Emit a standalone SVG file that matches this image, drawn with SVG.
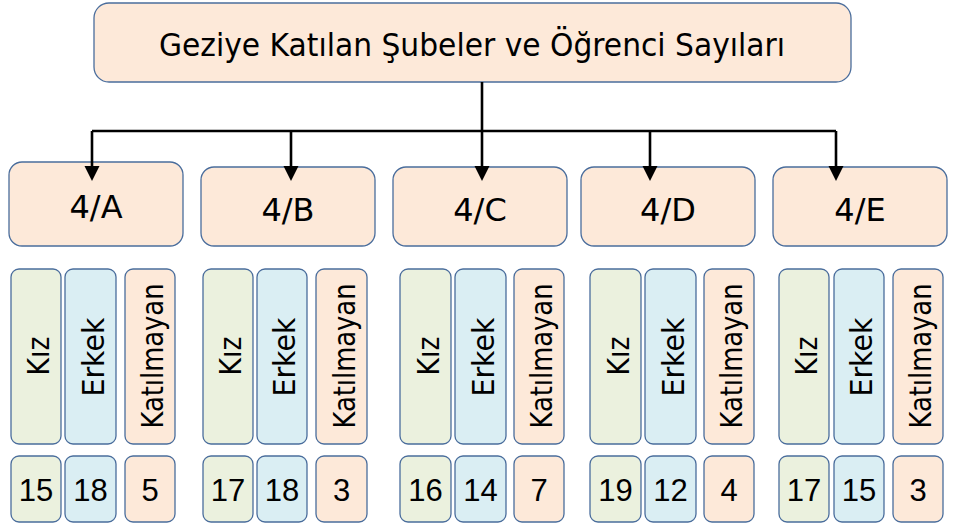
<svg xmlns="http://www.w3.org/2000/svg" width="953" height="527" viewBox="0 0 953 527">
<style>
.box{stroke:#4a6d9c;stroke-width:1.3}
.pe{fill:#fde9d9}.gr{fill:#ebf1de}.bl{fill:#daeef3}
text{font-family:"DejaVu Sans","Liberation Sans",sans-serif;fill:#000}
.t{font-size:32px}
.h{font-size:32px;text-anchor:middle}
.v{font-size:30px;text-anchor:middle}
.n{font-family:"Liberation Sans","DejaVu Sans",sans-serif;font-size:31px;text-anchor:middle}
.ln{fill:none;stroke:#000;stroke-width:2.6}
.ah{fill:#000}
</style>
<g id="title">
<rect class="box pe" x="94" y="3" width="757" height="79" rx="15"/>
<text class="t" x="159" y="56" textLength="626" lengthAdjust="spacingAndGlyphs">Geziye Katılan Şubeler ve Öğrenci Sayıları</text>
</g>
<g id="node-4A">
<rect class="box pe" x="9" y="162" width="174" height="84" rx="13"/>
<text class="h" x="96" y="218">4/A</text>
</g>
<g id="node-4B">
<rect class="box pe" x="201" y="167" width="174" height="79" rx="13"/>
<text class="h" x="288" y="221">4/B</text>
</g>
<g id="node-4C">
<rect class="box pe" x="393" y="167" width="174" height="79" rx="13"/>
<text class="h" x="480" y="221">4/C</text>
</g>
<g id="node-4D">
<rect class="box pe" x="581" y="167" width="174" height="79" rx="13"/>
<text class="h" x="668" y="221">4/D</text>
</g>
<g id="node-4E">
<rect class="box pe" x="773" y="167" width="174" height="79" rx="13"/>
<text class="h" x="860" y="221">4/E</text>
</g>

<g id="cols-4A">
<rect class="box gr" x="11" y="269" width="50" height="175" rx="8"/>
<rect class="box bl" x="65" y="269" width="51" height="175" rx="8"/>
<rect class="box pe" x="125" y="269" width="50" height="175" rx="8"/>
<text class="v" transform="translate(49,356) rotate(-90)" textLength="39" lengthAdjust="spacingAndGlyphs">Kız</text>
<text class="v" transform="translate(103.5,357) rotate(-90)" textLength="79" lengthAdjust="spacingAndGlyphs">Erkek</text>
<text class="v" transform="translate(163,356) rotate(-90)" textLength="145" lengthAdjust="spacingAndGlyphs">Katılmayan</text>
<rect class="box gr" x="11" y="456" width="50" height="66" rx="8"/>
<rect class="box bl" x="65" y="456" width="51" height="66" rx="8"/>
<rect class="box pe" x="125" y="456" width="50" height="66" rx="8"/>
<text class="n" x="36" y="501">15</text>
<text class="n" x="90.5" y="501">18</text>
<text class="n" x="150" y="501">5</text>
</g>
<g id="cols-4B">
<rect class="box gr" x="203" y="269" width="50" height="175" rx="8"/>
<rect class="box bl" x="257" y="269" width="50" height="175" rx="8"/>
<rect class="box pe" x="316" y="269" width="51" height="175" rx="8"/>
<text class="v" transform="translate(241,356) rotate(-90)" textLength="39" lengthAdjust="spacingAndGlyphs">Kız</text>
<text class="v" transform="translate(295,357) rotate(-90)" textLength="79" lengthAdjust="spacingAndGlyphs">Erkek</text>
<text class="v" transform="translate(354.5,356) rotate(-90)" textLength="145" lengthAdjust="spacingAndGlyphs">Katılmayan</text>
<rect class="box gr" x="203" y="456" width="50" height="66" rx="8"/>
<rect class="box bl" x="257" y="456" width="50" height="66" rx="8"/>
<rect class="box pe" x="316" y="456" width="51" height="66" rx="8"/>
<text class="n" x="228" y="501">17</text>
<text class="n" x="282" y="501">18</text>
<text class="n" x="341.5" y="501">3</text>
</g>
<g id="cols-4C">
<rect class="box gr" x="400" y="269" width="51" height="175" rx="8"/>
<rect class="box bl" x="455" y="269" width="51" height="175" rx="8"/>
<rect class="box pe" x="514" y="269" width="50" height="175" rx="8"/>
<text class="v" transform="translate(438.5,356) rotate(-90)" textLength="39" lengthAdjust="spacingAndGlyphs">Kız</text>
<text class="v" transform="translate(493.5,357) rotate(-90)" textLength="79" lengthAdjust="spacingAndGlyphs">Erkek</text>
<text class="v" transform="translate(552,356) rotate(-90)" textLength="145" lengthAdjust="spacingAndGlyphs">Katılmayan</text>
<rect class="box gr" x="400" y="456" width="51" height="66" rx="8"/>
<rect class="box bl" x="455" y="456" width="51" height="66" rx="8"/>
<rect class="box pe" x="514" y="456" width="50" height="66" rx="8"/>
<text class="n" x="425.5" y="501">16</text>
<text class="n" x="480.5" y="501">14</text>
<text class="n" x="539" y="501">7</text>
</g>
<g id="cols-4D">
<rect class="box gr" x="590" y="269" width="51" height="175" rx="8"/>
<rect class="box bl" x="645" y="269" width="51" height="175" rx="8"/>
<rect class="box pe" x="704" y="269" width="50" height="175" rx="8"/>
<text class="v" transform="translate(628.5,356) rotate(-90)" textLength="39" lengthAdjust="spacingAndGlyphs">Kız</text>
<text class="v" transform="translate(683.5,357) rotate(-90)" textLength="79" lengthAdjust="spacingAndGlyphs">Erkek</text>
<text class="v" transform="translate(742,356) rotate(-90)" textLength="145" lengthAdjust="spacingAndGlyphs">Katılmayan</text>
<rect class="box gr" x="590" y="456" width="51" height="66" rx="8"/>
<rect class="box bl" x="645" y="456" width="51" height="66" rx="8"/>
<rect class="box pe" x="704" y="456" width="50" height="66" rx="8"/>
<text class="n" x="615.5" y="501">19</text>
<text class="n" x="670.5" y="501">12</text>
<text class="n" x="729" y="501">4</text>
</g>
<g id="cols-4E">
<rect class="box gr" x="779" y="269" width="50" height="175" rx="8"/>
<rect class="box bl" x="834" y="269" width="50" height="175" rx="8"/>
<rect class="box pe" x="893" y="269" width="50" height="175" rx="8"/>
<text class="v" transform="translate(817,356) rotate(-90)" textLength="39" lengthAdjust="spacingAndGlyphs">Kız</text>
<text class="v" transform="translate(872,357) rotate(-90)" textLength="79" lengthAdjust="spacingAndGlyphs">Erkek</text>
<text class="v" transform="translate(931,356) rotate(-90)" textLength="145" lengthAdjust="spacingAndGlyphs">Katılmayan</text>
<rect class="box gr" x="779" y="456" width="50" height="66" rx="8"/>
<rect class="box bl" x="834" y="456" width="50" height="66" rx="8"/>
<rect class="box pe" x="893" y="456" width="50" height="66" rx="8"/>
<text class="n" x="804" y="501">17</text>
<text class="n" x="859" y="501">15</text>
<text class="n" x="918" y="501">3</text>
</g>
<g id="connectors">
<path class="ln" d="M482,82 V167"/>
<path class="ln" d="M92,131 H836"/>
<path class="ln" d="M92,131 V167"/>
<path class="ln" d="M291,131 V167"/>
<path class="ln" d="M650,131 V167"/>
<path class="ln" d="M836,131 V167"/>
<path class="ah" d="M84.5,166 H99.5 L92,181 Z"/>
<path class="ah" d="M283.5,166 H298.5 L291,181 Z"/>
<path class="ah" d="M474.5,166 H489.5 L482,181 Z"/>
<path class="ah" d="M642.5,166 H657.5 L650,181 Z"/>
<path class="ah" d="M828.5,166 H843.5 L836,181 Z"/>
</g>
</svg>
